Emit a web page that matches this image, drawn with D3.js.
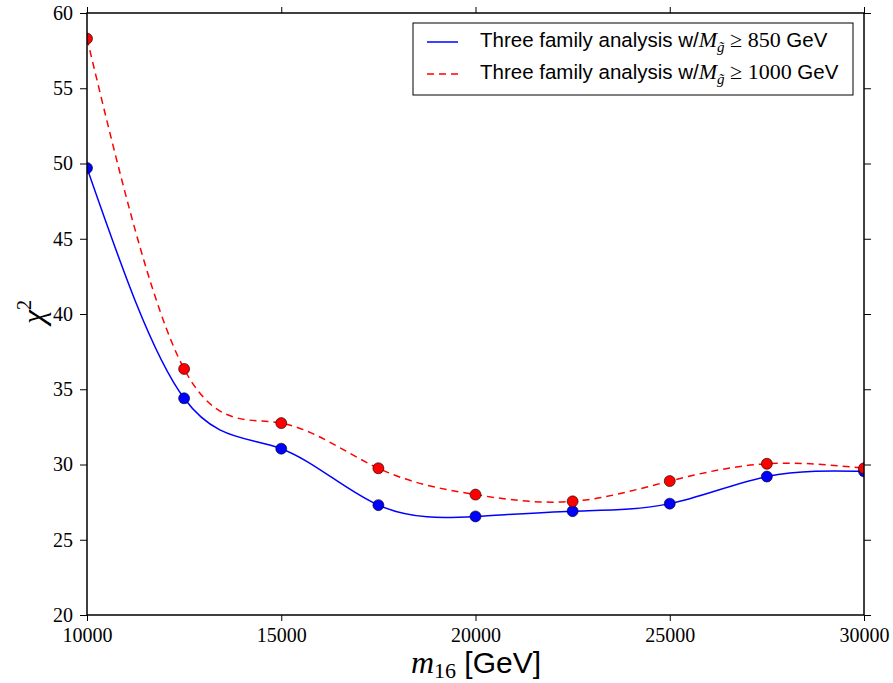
<!DOCTYPE html>
<html><head><meta charset="utf-8">
<script src="https://cdn.jsdelivr.net/npm/d3@7"></script>
<style>body{margin:0;background:#fff}svg{display:block}</style>
</head><body>
<svg id="chart" width="893" height="683"></svg>
<script>
const xValues = [10000, 12500, 15000, 17500, 20000, 22500, 25000, 27500, 30000];
const blueValues = [49.7, 34.4, 31.05, 27.3, 26.55, 26.9, 27.4, 29.2, 29.55];
const redValues = [58.3, 36.35, 32.75, 29.75, 28.0, 27.55, 28.9, 30.05, 29.75];
const xTicks = [10000, 15000, 20000, 25000, 30000];
const yTicks = [20, 25, 30, 35, 40, 45, 50, 55, 60];
const seriesNames = ["850", "1000"];

const svg = d3.select("#chart");
const L = 87, R = 864, T = 13, B = 615;
const x = d3.scaleLinear().domain([10000, 30000]).range([L, R]);
const y = d3.scaleLinear().domain([20, 60]).range([B, T]);
const serif = "'Liberation Serif', 'DejaVu Serif', serif";
const sans = "'Liberation Sans', Arial, sans-serif";

svg.append("defs").append("clipPath").attr("id", "clip")
  .append("rect").attr("x", L).attr("y", T).attr("width", R - L).attr("height", B - T);

const plot = svg.append("g").attr("clip-path", "url(#clip)");
const line = d3.line().x(d => x(d[0])).y(d => y(d[1])).curve(d3.curveNatural);

const blue = xValues.map((v, i) => [v, blueValues[i]]);
const red = xValues.map((v, i) => [v, redValues[i]]);

plot.append("path").datum(blue).attr("d", line).attr("fill", "none")
  .attr("stroke", "#0000ff").attr("stroke-width", 1.5);
plot.append("path").datum(red).attr("d", line).attr("fill", "none")
  .attr("stroke", "#ff0000").attr("stroke-width", 1.5).attr("stroke-dasharray", "7,5");

plot.selectAll("circle.b").data(blue).enter().append("circle")
  .attr("cx", d => x(d[0])).attr("cy", d => y(d[1])).attr("r", 5.5)
  .attr("fill", "#0000ff").attr("stroke", "#000").attr("stroke-width", 0.6);
plot.selectAll("circle.r").data(red).enter().append("circle")
  .attr("cx", d => x(d[0])).attr("cy", d => y(d[1])).attr("r", 5.5)
  .attr("fill", "#ff0000").attr("stroke", "#000").attr("stroke-width", 0.6);

// axes
function styleAxis(g) {
  g.select(".domain").remove();
  g.selectAll(".tick line").attr("stroke", "#000").attr("stroke-width", 1);
  g.selectAll(".tick text").attr("font-family", serif).attr("font-size", 20).attr("fill", "#000");
}
const fmt = d3.format("d");
svg.append("g").attr("transform", `translate(0,${B})`)
  .call(d3.axisBottom(x).tickValues(xTicks).tickFormat(fmt).tickSize(6).tickPadding(7)).call(styleAxis);
svg.append("g").attr("transform", `translate(0,${T})`)
  .call(d3.axisTop(x).tickValues(xTicks).tickFormat("").tickSize(6)).call(styleAxis);
svg.append("g").attr("transform", `translate(${L},0)`)
  .call(d3.axisLeft(y).tickValues(yTicks).tickFormat(fmt).tickSize(7).tickPadding(7)).call(styleAxis);
svg.append("g").attr("transform", `translate(${R},0)`)
  .call(d3.axisRight(y).tickValues(yTicks).tickFormat("").tickSize(7)).call(styleAxis);

svg.append("rect").attr("x", L).attr("y", T).attr("width", R - L).attr("height", B - T)
  .attr("fill", "none").attr("stroke", "#000").attr("stroke-width", 1.5);

// axis labels
const xl = svg.append("text").attr("x", 476).attr("y", 673).attr("text-anchor", "middle").attr("fill", "#000");
xl.append("tspan").attr("font-family", serif).attr("font-style", "italic").attr("font-size", 32).text("m");
xl.append("tspan").attr("font-family", serif).attr("font-size", 22).attr("dy", 5).text("16");
xl.append("tspan").attr("font-family", sans).attr("font-size", 30).attr("dy", -5).text(" [GeV]");

const yl = svg.append("text").attr("transform", "translate(44,312) rotate(-90)")
  .attr("text-anchor", "middle").attr("fill", "#000");
yl.append("tspan").attr("font-family", serif).attr("font-style", "italic").attr("font-size", 32).text("χ");
yl.append("tspan").attr("font-family", serif).attr("font-size", 20).attr("dy", -13).text("2");

// legend
const lg = svg.append("g");
lg.append("rect").attr("x", 413).attr("y", 23).attr("width", 440).attr("height", 72)
  .attr("fill", "#fff").attr("stroke", "#000").attr("stroke-width", 1);
const rows = [{c: "#0000ff", dash: null, yy: 42, v: seriesNames[0]}, {c: "#ff0000", dash: "7,5", yy: 74, v: seriesNames[1]}];
rows.forEach(r => {
  const ln = lg.append("line").attr("x1", 427).attr("x2", 458).attr("y1", r.yy).attr("y2", r.yy)
    .attr("stroke", r.c).attr("stroke-width", 1.5);
  if (r.dash) ln.attr("stroke-dasharray", r.dash);
  const t = lg.append("text").attr("x", 480).attr("y", r.yy + 5).attr("fill", "#000");
  t.append("tspan").attr("font-family", sans).attr("font-size", 20.5).text("Three family analysis w/");
  t.append("tspan").attr("font-family", serif).attr("font-style", "italic").attr("font-size", 22).text("M");
  t.append("tspan").attr("font-family", serif).attr("font-style", "italic").attr("font-size", 15).attr("dy", 5).text("g̃");
  t.append("tspan").attr("font-family", serif).attr("font-size", 22).attr("dy", -5).text(" ≥ " + r.v);
  t.append("tspan").attr("font-family", sans).attr("font-size", 20.5).text(" GeV");
});
</script>
</body></html>
